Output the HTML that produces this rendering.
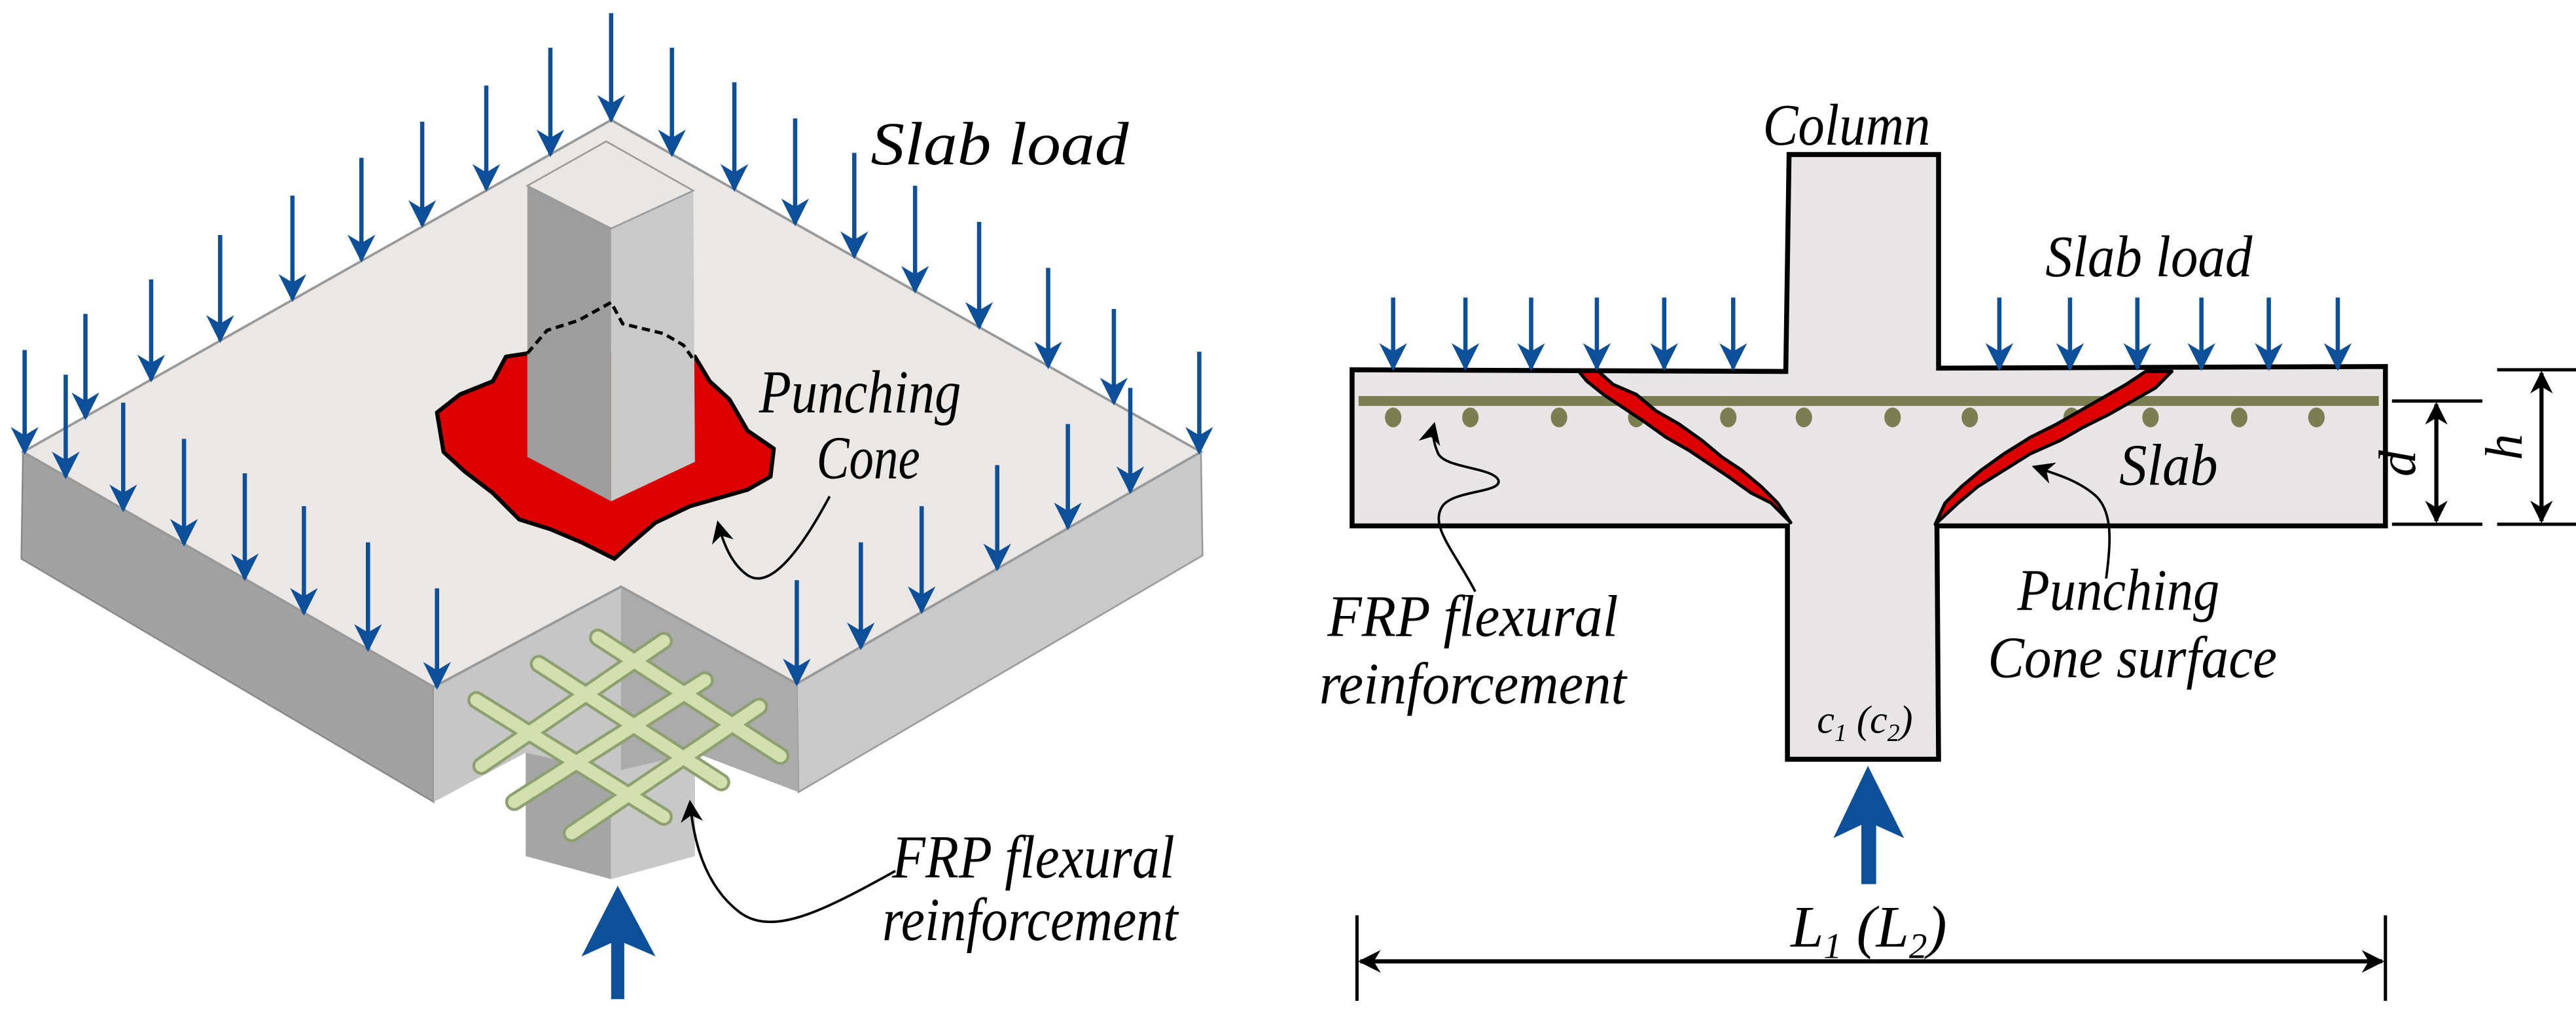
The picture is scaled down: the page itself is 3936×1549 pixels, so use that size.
<!DOCTYPE html>
<html><head><meta charset="utf-8"><style>
html,body{margin:0;padding:0;background:#fff;}
svg{display:block;}
text{font-family:"Liberation Serif",serif;font-style:italic;fill:#000;}
</style></head><body>
<svg width="3936" height="1549" viewBox="0 0 1568 617" xmlns="http://www.w3.org/2000/svg">
<defs>
<marker id="ba" viewBox="0 0 10 10" refX="9" refY="5" markerWidth="6.5" markerHeight="6.5" orient="auto" markerUnits="strokeWidth">
<path d="M0,0 L10,5 L0,10 L3,5 Z" fill="#0d4f99"/></marker>
<marker id="ka" viewBox="0 0 10 10" refX="9" refY="5" markerWidth="9" markerHeight="9" orient="auto" markerUnits="strokeWidth">
<path d="M0,0 L10,5 L0,10 L3,5 Z" fill="#000"/></marker>
<marker id="kd" viewBox="0 0 10 10" refX="9" refY="5" markerWidth="5.5" markerHeight="5.5" orient="auto-start-reverse" markerUnits="strokeWidth">
<path d="M0,0 L10,5 L0,10 L3,5 Z" fill="#000"/></marker>
</defs>

<!-- LEFT FIGURE -->
<polygon points="14,275 264,418 264,488 13,340" fill="#a3a2a2" stroke="#888" stroke-width="1"/>
<polygon points="485,416 731,275 732,338 486,482" fill="#c9c9c9" stroke="#999" stroke-width="1"/>
<polygon points="264,418 378,357 378,472 320,458 264,488" fill="#c6c6c6"/>
<polygon points="378,357 485,416 486,482 423,458 378,472" fill="#ababab"/>
<polygon points="372,73 731,275 485,416 378,357 264,418 14,275" fill="#ebe7e5" stroke="#999" stroke-width="1.5"/>
<polygon points="320,458 372,470 372,535 320,521" fill="#a5a5a5"/>
<polygon points="372,470 423,458 423,521 372,535" fill="#c8c8c8"/>
<g stroke-linecap="round" fill="none">
<g stroke="#8fa070" stroke-width="11">
<line x1="290" y1="426" x2="404" y2="497"/><line x1="328" y1="404" x2="439" y2="476"/><line x1="364" y1="388" x2="475" y2="460"/>
<line x1="404" y1="390" x2="293" y2="466"/><line x1="429" y1="414" x2="313" y2="488"/><line x1="462" y1="430" x2="348" y2="507"/>
</g>
<g stroke="#d3e0ad" stroke-width="7.5">
<line x1="290" y1="426" x2="404" y2="497"/><line x1="328" y1="404" x2="439" y2="476"/><line x1="364" y1="388" x2="475" y2="460"/>
<line x1="404" y1="390" x2="293" y2="466"/><line x1="429" y1="414" x2="313" y2="488"/><line x1="462" y1="430" x2="348" y2="507"/>
</g>
</g>
<polygon points="266,251 280,240 300,232 308,217 321,215 423,217 432,232 444,243 455,262 471,273 469,290 455,298 420,308 399,318 385,330 374,340 354,330 335,322 316,316 300,300 283,287 270,275" fill="#dd0000" stroke="#000" stroke-width="2.5" stroke-linejoin="round"/>
<polygon points="321,113 372,139 372,305 321,278" fill="#9d9d9d"/>
<polygon points="372,139 422,116 423,281 372,305" fill="#c9c9c9"/>
<polygon points="321,113 369,86 422,116 372,139" fill="#e9e6e4" stroke="#999" stroke-width="1"/>
<polyline points="321,215 333,201 352,195 372,184 379,197 404,203 416,210 423,220" fill="none" stroke="#000" stroke-width="2" stroke-dasharray="5,3"/>

<g stroke="#0d4f99" stroke-width="2.6" marker-end="url(#ba)">
<line x1="372" y1="8" x2="372" y2="73"/><line x1="335" y1="29" x2="335" y2="94"/><line x1="296" y1="52" x2="296" y2="115"/>
<line x1="257" y1="74" x2="257" y2="137"/><line x1="220" y1="96" x2="220" y2="158"/><line x1="178" y1="119" x2="178" y2="182"/>
<line x1="134" y1="143" x2="134" y2="207"/><line x1="92" y1="170" x2="92" y2="231"/><line x1="52" y1="191" x2="52" y2="254"/>
<line x1="15" y1="213" x2="15" y2="275"/>
<line x1="409" y1="29" x2="409" y2="94"/><line x1="447" y1="50" x2="447" y2="115"/><line x1="484" y1="72" x2="484" y2="136"/>
<line x1="520" y1="93" x2="520" y2="156"/><line x1="557" y1="113" x2="557" y2="177"/><line x1="596" y1="135" x2="596" y2="199"/>
<line x1="638" y1="163" x2="638" y2="223"/><line x1="678" y1="188" x2="678" y2="245"/><line x1="730" y1="214" x2="730" y2="275"/>
<line x1="40" y1="228" x2="40" y2="290"/><line x1="75" y1="245" x2="75" y2="310"/><line x1="112" y1="267" x2="112" y2="331"/>
<line x1="149" y1="288" x2="149" y2="352"/><line x1="185" y1="308" x2="185" y2="373"/><line x1="224" y1="330" x2="224" y2="395"/>
<line x1="266" y1="358" x2="266" y2="418"/>
<line x1="485" y1="353" x2="485" y2="416"/><line x1="524" y1="330" x2="524" y2="394"/><line x1="561" y1="308" x2="561" y2="372"/>
<line x1="607" y1="283" x2="607" y2="346"/><line x1="650" y1="258" x2="650" y2="321"/><line x1="688" y1="236" x2="688" y2="299"/>
</g>
<rect x="372" y="560" width="8" height="48" fill="#0d4f99"/>
<polygon points="376,539 399,582 376,572 354,582" fill="#0d4f99"/>
<path d="M505,302 C490,330 470,360 455,350 C445,343 440,330 437,318" fill="none" stroke="#000" stroke-width="1.5" marker-end="url(#ka)"/>
<path d="M545,530 C500,555 470,570 450,555 C428,538 422,510 420,488" fill="none" stroke="#000" stroke-width="1.5" marker-end="url(#ka)"/>
<text x="530" y="100" font-size="37" textLength="157" lengthAdjust="spacingAndGlyphs">Slab load</text>
<text x="462" y="251" font-size="37" textLength="123" lengthAdjust="spacingAndGlyphs">Punching</text>
<text x="497" y="291" font-size="37" textLength="63" lengthAdjust="spacingAndGlyphs">Cone</text>
<text x="543" y="534" font-size="37" textLength="172" lengthAdjust="spacingAndGlyphs">FRP flexural</text>
<text x="537" y="572" font-size="37" textLength="180" lengthAdjust="spacingAndGlyphs">reinforcement</text>

<!-- RIGHT FIGURE -->
<polygon points="823,225 1087,226 1089,94 1180,94 1180,224 1452,223 1452,320 1179,320 1180,462 1088,462 1088,320 823,320" fill="#e7e5e5" stroke="#000" stroke-width="3" stroke-linejoin="miter"/>
<line x1="827" y1="244" x2="1448" y2="244" stroke="#7a7f52" stroke-width="6"/>
<g fill="#7a7f52">
<ellipse cx="848" cy="254" rx="5" ry="6"/><ellipse cx="895" cy="254" rx="5" ry="6"/><ellipse cx="949" cy="254" rx="5" ry="6"/>
<ellipse cx="996" cy="254" rx="5" ry="6"/><ellipse cx="1052" cy="254" rx="5" ry="6"/><ellipse cx="1098" cy="254" rx="5" ry="6"/>
<ellipse cx="1152" cy="254" rx="5" ry="6"/><ellipse cx="1199" cy="254" rx="5" ry="6"/><ellipse cx="1261" cy="254" rx="5" ry="6"/>
<ellipse cx="1309" cy="254" rx="5" ry="6"/><ellipse cx="1363" cy="254" rx="5" ry="6"/><ellipse cx="1410" cy="254" rx="5" ry="6"/>
</g>
<polygon points="961,226 973,226 982,234 996,240 1008,250 1022,258 1036,268 1048,278 1060,286 1072,296 1082,306 1090,318 1078,306 1066,300 1052,290 1040,282 1028,274 1014,266 1000,256 988,248 976,240 966,232" fill="#dd0000" stroke="#000" stroke-width="2" stroke-linejoin="round"/>
<polygon points="1306,226 1322,226 1312,236 1298,244 1284,252 1268,260 1254,268 1236,276 1220,286 1204,296 1192,306 1178,319 1184,306 1194,296 1206,286 1220,276 1236,266 1252,258 1266,250 1280,242 1294,234" fill="#dd0000" stroke="#000" stroke-width="2" stroke-linejoin="round"/>
<g stroke="#0d4f99" stroke-width="2.6" marker-end="url(#ba)">
<line x1="848" y1="181" x2="848" y2="224"/><line x1="892" y1="181" x2="892" y2="224"/><line x1="932" y1="181" x2="932" y2="224"/>
<line x1="972" y1="181" x2="972" y2="224"/><line x1="1013" y1="181" x2="1013" y2="224"/><line x1="1055" y1="181" x2="1055" y2="224"/>
<line x1="1217" y1="181" x2="1217" y2="224"/><line x1="1260" y1="181" x2="1260" y2="224"/><line x1="1301" y1="181" x2="1301" y2="224"/>
<line x1="1340" y1="181" x2="1340" y2="224"/><line x1="1381" y1="181" x2="1381" y2="224"/><line x1="1423" y1="181" x2="1423" y2="224"/>
</g>
<rect x="1133" y="500" width="9" height="38" fill="#0d4f99"/>
<polygon points="1137,466 1159,510 1137,500 1116,510" fill="#0d4f99"/>
<g stroke="#000" stroke-width="2" fill="none">
<line x1="1456" y1="244" x2="1511" y2="244"/><line x1="1456" y1="319" x2="1511" y2="319"/>
<line x1="1520" y1="225" x2="1568" y2="225"/><line x1="1520" y1="319" x2="1568" y2="319"/>
<line x1="826" y1="557" x2="826" y2="609"/><line x1="1452" y1="557" x2="1452" y2="609"/>
</g>
<g stroke="#000" stroke-width="2.5" fill="none" marker-start="url(#kd)" marker-end="url(#kd)">
<line x1="1483" y1="246" x2="1483" y2="317"/>
<line x1="1547" y1="227" x2="1547" y2="317"/>
<line x1="828" y1="585" x2="1450" y2="585"/>
</g>
<path d="M898,360 C885,335 870,320 878,308 C885,298 915,300 912,292 C908,284 878,285 875,275 C872,268 872,262 873,258" fill="none" stroke="#000" stroke-width="1.5" marker-end="url(#ka)"/>
<path d="M1282,352 C1285,330 1286,312 1276,302 C1265,292 1250,288 1238,284" fill="none" stroke="#000" stroke-width="1.5" marker-end="url(#ka)"/>
<text x="1073" y="88" font-size="36" textLength="102" lengthAdjust="spacingAndGlyphs">Column</text>
<text x="1245" y="168" font-size="36" textLength="126" lengthAdjust="spacingAndGlyphs">Slab load</text>
<text x="1290" y="295" font-size="36" textLength="60" lengthAdjust="spacingAndGlyphs">Slab</text>
<text x="1228" y="371" font-size="36" textLength="123" lengthAdjust="spacingAndGlyphs">Punching</text>
<text x="1210" y="412" font-size="36" textLength="176" lengthAdjust="spacingAndGlyphs">Cone surface</text>
<text x="808" y="387" font-size="36" textLength="177" lengthAdjust="spacingAndGlyphs">FRP flexural</text>
<text x="803" y="428" font-size="36" textLength="187" lengthAdjust="spacingAndGlyphs">reinforcement</text>
<text x="1106" y="446" font-size="24">c<tspan font-size="15" dy="5">1</tspan><tspan dy="-5"> (c</tspan><tspan font-size="15" dy="5">2</tspan><tspan dy="-5">)</tspan></text>
<text x="1090" y="576" font-size="36">L<tspan font-size="22" dy="7">1</tspan><tspan dy="-7"> (L</tspan><tspan font-size="22" dy="7">2</tspan><tspan dy="-7">)</tspan></text>
<text transform="translate(1470,282) rotate(-90)" font-size="32" text-anchor="middle">d</text>
<text transform="translate(1535,272) rotate(-90)" font-size="32" text-anchor="middle">h</text>
</svg>
</body></html>
